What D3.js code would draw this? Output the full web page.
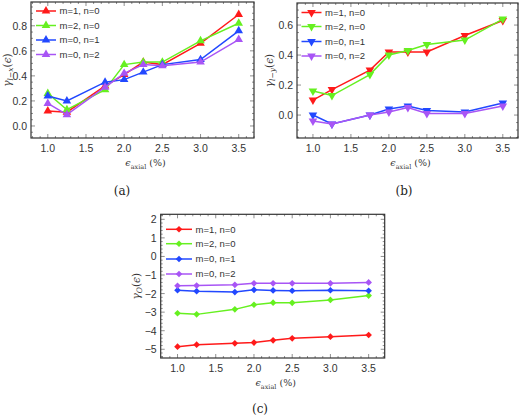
<!DOCTYPE html>
<html><head><meta charset="utf-8">
<script src="https://cdn.jsdelivr.net/npm/d3@7"></script>
<style>body{margin:0;background:#fff}svg{display:block}</style>
</head><body>
<svg id="c" width="520" height="415"></svg>
<script>
const strain = [1.0, 1.25, 1.75, 2.0, 2.25, 2.5, 3.0, 3.5];
const seriesNames = ["m=1, n=0", "m=2, n=0", "m=0, n=1", "m=0, n=2"];
const seriesColors = ["#ff1a1a", "#66f020", "#2248ff", "#a855f5"];
// panel (a): gamma_{l-x}
const aRed    = [0.12, 0.11, 0.32, 0.41, 0.51, 0.49, 0.66, 0.89];
const aGreen  = [0.26, 0.13, 0.29, 0.49, 0.51, 0.51, 0.68, 0.82];
const aBlue   = [0.24, 0.20, 0.35, 0.37, 0.43, 0.49, 0.53, 0.76];
const aPurple = [0.18, 0.09, 0.31, 0.42, 0.49, 0.48, 0.51, 0.69];
// panel (b): gamma_{l-y}
const bRed    = [0.10, 0.17, 0.30, 0.42, 0.42, 0.42, 0.53, 0.63];
const bGreen  = [0.16, 0.13, 0.27, 0.40, 0.43, 0.47, 0.50, 0.64];
const bBlue   = [0.00, -0.06, 0.00, 0.04, 0.06, 0.03, 0.02, 0.08];
const bPurple = [-0.04, -0.06, 0.00, 0.02, 0.05, 0.01, 0.01, 0.06];
// panel (c): gamma_O
const cRed    = [-4.86, -4.75, -4.68, -4.64, -4.52, -4.41, -4.32, -4.23];
const cGreen  = [-3.06, -3.12, -2.85, -2.60, -2.49, -2.50, -2.34, -2.11];
const cBlue   = [-1.82, -1.87, -1.92, -1.80, -1.83, -1.85, -1.82, -1.85];
const cPurple = [-1.58, -1.57, -1.53, -1.45, -1.45, -1.45, -1.45, -1.40];
const xTicks = [1.0, 1.5, 2.0, 2.5, 3.0, 3.5];
const aTicks = [0.0, 0.2, 0.4, 0.6, 0.8];
const bTicks = [0.0, 0.2, 0.4, 0.6];
const cTicks = [-5, -4, -3, -2, -1, 0, 1, 2];

const svg = d3.select("#c");

function panel(o) {
  const g = svg.append("g");
  const x = d3.scaleLinear().domain(o.xd).range([o.l, o.r]);
  const y = d3.scaleLinear().domain(o.yd).range([o.b, o.t]);
  const minorX = d3.range(8, 38).map(d => d / 10).filter(d => d >= o.xd[0] && d <= o.xd[1]);
  const minorY = d3.range(Math.ceil(o.yd[0] / o.ym - 1e-9), Math.floor(o.yd[1] / o.ym + 1e-9) + 1).map(d => +(d * o.ym).toFixed(6));
  const tk = g.append("g").attr("stroke", "#444").attr("stroke-width", 0.6);
  minorX.forEach(v => {
    const major = xTicks.some(t => Math.abs(t - v) < 1e-6);
    const len = major ? 4 : 2;
    tk.append("line").attr("x1", x(v)).attr("x2", x(v)).attr("y1", o.b).attr("y2", o.b - len);
    tk.append("line").attr("x1", x(v)).attr("x2", x(v)).attr("y1", o.t).attr("y2", o.t + len);
  });
  minorY.forEach(v => {
    const major = o.yt.some(t => Math.abs(t - v) < 1e-6);
    const len = major ? 4 : 2;
    tk.append("line").attr("y1", y(v)).attr("y2", y(v)).attr("x1", o.l).attr("x2", o.l + len);
    tk.append("line").attr("y1", y(v)).attr("y2", y(v)).attr("x1", o.r).attr("x2", o.r - len);
  });
  g.append("rect").attr("x", o.l).attr("y", o.t).attr("width", o.r - o.l).attr("height", o.b - o.t)
    .attr("fill", "none").attr("stroke", "#333").attr("stroke-width", 1.2);
  const tf = "Liberation Sans, Arial, sans-serif";
  xTicks.forEach(v => g.append("text").attr("x", x(v)).attr("y", o.b + 13.5).attr("text-anchor", "middle")
    .attr("font-family", tf).attr("font-size", 10.5).attr("fill", "#333").text(v.toFixed(1)));
  o.yt.forEach(v => g.append("text").attr("x", o.l - 4).attr("y", y(v) + 4).attr("text-anchor", "end")
    .attr("font-family", tf).attr("font-size", 10.5).attr("fill", "#333")
    .text(o.yfmt(v)));
  const line = d3.line().x((d, i) => x(strain[i])).y(d => y(d));
  const sym = d3.symbol().type(o.sym).size(o.symSize);
  o.data.forEach((arr, k) => {
    g.append("path").attr("d", line(arr)).attr("fill", "none").attr("stroke", seriesColors[k]).attr("stroke-width", 1.5);
    arr.forEach((d, i) => g.append("path").attr("d", sym()).attr("fill", seriesColors[k])
      .attr("transform", `translate(${x(strain[i])},${y(d)}) rotate(${o.rot})`));
  });
  seriesNames.forEach((n, k) => {
    const ly = o.legY[k];
    g.append("line").attr("x1", o.legX).attr("x2", o.legX + o.legW).attr("y1", ly).attr("y2", ly)
      .attr("stroke", seriesColors[k]).attr("stroke-width", 1.5);
    g.append("path").attr("d", sym()).attr("fill", seriesColors[k])
      .attr("transform", `translate(${o.legX + o.legW / 2},${ly}) rotate(${o.rot})`);
    g.append("text").attr("x", o.legX + o.legW + 3.5).attr("y", ly + 3.3).attr("font-family", tf)
      .attr("font-size", 9.5).attr("fill", "#333").text(n);
  });
  const xl = g.append("text").attr("x", (o.l + o.r) / 2 + 3).attr("y", o.b + 28).attr("text-anchor", "middle")
    .attr("font-family", "DejaVu Serif, serif").attr("font-size", 9.5).attr("fill", "#333");
  xl.append("tspan").attr("font-style", "italic").text("ϵ");
  xl.append("tspan").attr("font-size", 6.5).attr("dy", 2.5).text("axial");
  xl.append("tspan").attr("dy", -2.5).text(" (%)");
  const yl = g.append("text").attr("transform", `translate(${o.yLabX},${(o.t + o.b) / 2}) rotate(-90)`)
    .attr("text-anchor", "middle").attr("font-family", "DejaVu Serif, serif").attr("font-size", 10.5).attr("fill", "#333");
  yl.append("tspan").attr("font-style", "italic").text("γ");
  yl.append("tspan").attr("font-size", 7.5).attr("dy", 2.2).attr("font-style", "italic").text(o.sub);
  yl.append("tspan").attr("dy", -2.2).text("(");
  yl.append("tspan").attr("font-style", "italic").text("ϵ");
  yl.append("tspan").text(")");
  g.append("text").attr("x", o.capX).attr("y", o.capY).attr("text-anchor", "middle")
    .attr("font-family", "DejaVu Serif, serif").attr("font-size", 12).attr("fill", "#222").text(o.cap);
}

const fmt1 = v => v.toFixed(1).replace("-", "\u2212");
const fmt0 = v => String(v).replace("-", "\u2212");

panel({l: 31, r: 254, t: 2, b: 138, xd: [0.78, 3.7], yd: [-0.096, 0.99], yt: aTicks, ym: 0.05, yfmt: fmt1,
  data: [aRed, aGreen, aBlue, aPurple], sym: d3.symbolTriangle, symSize: 32, rot: 0,
  legX: 36, legW: 20, legY: [11, 25.5, 40, 54.5], yLabX: 10.5, sub: "l−x", cap: "(a)", capX: 122, capY: 195});
panel({l: 297, r: 518, t: 3, b: 138, xd: [0.79, 3.70], yd: [-0.153, 0.747], yt: bTicks, ym: 0.05, yfmt: fmt1,
  data: [bRed, bGreen, bBlue, bPurple], sym: d3.symbolTriangle, symSize: 32, rot: 180,
  legX: 301.5, legW: 20, legY: [12.5, 26.5, 41.5, 56], yLabX: 272.5, sub: "l−y", cap: "(b)", capX: 404, capY: 195});
panel({l: 160.7, r: 384.7, t: 214.3, b: 358, xd: [0.78, 3.71], yd: [-5.47, 2.27], yt: cTicks, ym: 0.2, yfmt: fmt0,
  data: [cRed, cGreen, cBlue, cPurple], sym: d3.symbolSquare, symSize: 22, rot: 45,
  legX: 166, legW: 26, legY: [229.3, 243.7, 259, 274], yLabX: 140, sub: "O", cap: "(c)", capX: 260, capY: 413});
</script>
</body></html>
